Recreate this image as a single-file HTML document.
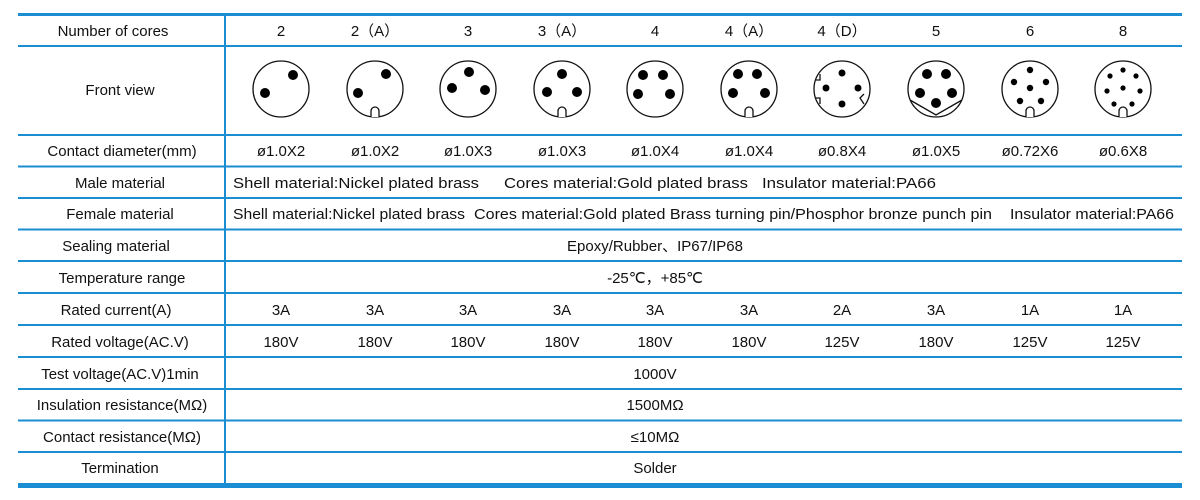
<!DOCTYPE html>
<html><head><meta charset="utf-8"><style>
html,body{margin:0;padding:0;background:#fff;}
svg{display:block;}
text{font-family:"Liberation Sans",sans-serif;font-size:15px;fill:#111;}
</style></head><body>
<svg width="1200" height="500" viewBox="0 0 1200 500" xmlns="http://www.w3.org/2000/svg">
<g stroke="#1a8dd3" fill="none">
<line x1="18" y1="14.5" x2="1182" y2="14.5" stroke-width="3"/>
<line x1="18" y1="46" x2="1182" y2="46" stroke-width="2"/>
<line x1="18" y1="135" x2="1182" y2="135" stroke-width="2"/>
<line x1="18" y1="166.5" x2="1182" y2="166.5" stroke-width="2"/>
<line x1="18" y1="198" x2="1182" y2="198" stroke-width="2"/>
<line x1="18" y1="229.5" x2="1182" y2="229.5" stroke-width="2"/>
<line x1="18" y1="261" x2="1182" y2="261" stroke-width="2"/>
<line x1="18" y1="293" x2="1182" y2="293" stroke-width="2"/>
<line x1="18" y1="325" x2="1182" y2="325" stroke-width="2"/>
<line x1="18" y1="357" x2="1182" y2="357" stroke-width="2"/>
<line x1="18" y1="389" x2="1182" y2="389" stroke-width="2"/>
<line x1="18" y1="420.5" x2="1182" y2="420.5" stroke-width="2"/>
<line x1="18" y1="452" x2="1182" y2="452" stroke-width="2"/>
<line x1="18" y1="485.5" x2="1182" y2="485.5" stroke-width="5"/>
<line x1="225" y1="14" x2="225" y2="484" stroke-width="2"/>
</g>
<g text-anchor="middle">
<text x="113" y="36">Number of cores</text>
<text x="120" y="95">Front view</text>
<text x="122" y="156">Contact diameter(mm)</text>
<text x="120" y="188">Male material</text>
<text x="120" y="219">Female material</text>
<text x="116" y="251">Sealing material</text>
<text x="122" y="283">Temperature range</text>
<text x="116" y="315">Rated current(A)</text>
<text x="120" y="347">Rated voltage(AC.V)</text>
<text x="120" y="379">Test voltage(AC.V)1min</text>
<text x="122" y="410">Insulation resistance(MΩ)</text>
<text x="122" y="442">Contact resistance(MΩ)</text>
<text x="120" y="473">Termination</text>

<text x="281" y="36">2</text><text x="375" y="36">2（A）</text><text x="468" y="36">3</text><text x="562" y="36">3（A）</text><text x="655" y="36">4</text><text x="749" y="36">4（A）</text><text x="842" y="36">4（D）</text><text x="936" y="36">5</text><text x="1030" y="36">6</text><text x="1123" y="36">8</text>

<text x="281" y="156">ø1.0X2</text><text x="375" y="156">ø1.0X2</text><text x="468" y="156">ø1.0X3</text><text x="562" y="156">ø1.0X3</text><text x="655" y="156">ø1.0X4</text><text x="749" y="156">ø1.0X4</text><text x="842" y="156">ø0.8X4</text><text x="936" y="156">ø1.0X5</text><text x="1030" y="156">ø0.72X6</text><text x="1123" y="156">ø0.6X8</text>

<text x="281" y="315">3A</text><text x="375" y="315">3A</text><text x="468" y="315">3A</text><text x="562" y="315">3A</text><text x="655" y="315">3A</text><text x="749" y="315">3A</text><text x="842" y="315">2A</text><text x="936" y="315">3A</text><text x="1030" y="315">1A</text><text x="1123" y="315">1A</text>

<text x="281" y="347">180V</text><text x="375" y="347">180V</text><text x="468" y="347">180V</text><text x="562" y="347">180V</text><text x="655" y="347">180V</text><text x="749" y="347">180V</text><text x="842" y="347">125V</text><text x="936" y="347">180V</text><text x="1030" y="347">125V</text><text x="1123" y="347">125V</text>

<text x="655" y="251">Epoxy/Rubber、IP67/IP68</text>
<text x="655" y="283">-25℃，+85℃</text>
<text x="655" y="379">1000V</text>
<text x="655" y="410">1500MΩ</text>
<text x="655" y="442">≤10MΩ</text>
<text x="655" y="473">Solder</text>
</g>
<text x="233" y="188" textLength="246" lengthAdjust="spacingAndGlyphs">Shell material:Nickel plated brass</text>
<text x="504" y="188" textLength="244" lengthAdjust="spacingAndGlyphs">Cores material:Gold plated brass</text>
<text x="762" y="188" textLength="174" lengthAdjust="spacingAndGlyphs">Insulator material:PA66</text>
<text x="233" y="219" textLength="232" lengthAdjust="spacingAndGlyphs">Shell material:Nickel plated brass</text>
<text x="474" y="219" textLength="518" lengthAdjust="spacingAndGlyphs">Cores material:Gold plated Brass turning pin/Phosphor bronze punch pin</text>
<text x="1010" y="219" textLength="164" lengthAdjust="spacingAndGlyphs">Insulator material:PA66</text>

<g stroke="#111" stroke-width="1.3" fill="#fff">
<circle cx="281" cy="89" r="28"/><circle cx="375" cy="89" r="28"/><circle cx="468" cy="89" r="28"/><circle cx="562" cy="89" r="28"/><circle cx="655" cy="89" r="28"/><circle cx="749" cy="89" r="28"/><circle cx="842" cy="89" r="28"/><circle cx="936" cy="89" r="28"/><circle cx="1030" cy="89" r="28"/><circle cx="1123" cy="89" r="28"/>
<path d="M371 117 v-6 a4 4 0 0 1 8 0 v6"/>
<path d="M558 117 v-6 a4 4 0 0 1 8 0 v6"/>
<path d="M745 117 v-6 a4 4 0 0 1 8 0 v6"/>
<path d="M1026 117 v-6 a4 4 0 0 1 8 0 v6"/>
<path d="M1119 117 v-6 a4 4 0 0 1 8 0 v6"/>
<path d="M815 80 h5 v-6" fill="none"/><path d="M815 98 h5 v6" fill="none"/><path d="M864 104 l-4 -6 l4 -4" fill="none"/>
<path d="M910 100 l26 15 l26 -15" fill="none"/>
</g>
<g fill="#000">
<circle cx="293" cy="75" r="5"/><circle cx="265" cy="93" r="5"/>
<circle cx="386" cy="74" r="5"/><circle cx="358" cy="93" r="5"/>
<circle cx="469" cy="72" r="5"/><circle cx="452" cy="88" r="5"/><circle cx="485" cy="90" r="5"/>
<circle cx="562" cy="74" r="5"/><circle cx="547" cy="92" r="5"/><circle cx="577" cy="92" r="5"/>
<circle cx="643" cy="75" r="5"/><circle cx="663" cy="75" r="5"/><circle cx="638" cy="94" r="5"/><circle cx="670" cy="94" r="5"/>
<circle cx="738" cy="74" r="5"/><circle cx="757" cy="74" r="5"/><circle cx="733" cy="93" r="5"/><circle cx="765" cy="93" r="5"/>
<circle cx="842" cy="73" r="3.5"/><circle cx="826" cy="88" r="3.5"/><circle cx="858" cy="88" r="3.5"/><circle cx="842" cy="104" r="3.5"/>
<circle cx="927" cy="74" r="5"/><circle cx="946" cy="74" r="5"/><circle cx="920" cy="93" r="5"/><circle cx="952" cy="93" r="5"/><circle cx="936" cy="103" r="5"/>
<circle cx="1030" cy="70" r="3.2"/><circle cx="1014" cy="82" r="3.2"/><circle cx="1046" cy="82" r="3.2"/><circle cx="1030" cy="88" r="3.2"/><circle cx="1020" cy="101" r="3.2"/><circle cx="1041" cy="101" r="3.2"/>
<circle cx="1123" cy="70" r="2.6"/><circle cx="1110" cy="76" r="2.6"/><circle cx="1136" cy="76" r="2.6"/><circle cx="1107" cy="91" r="2.6"/><circle cx="1123" cy="88" r="2.6"/><circle cx="1140" cy="91" r="2.6"/><circle cx="1114" cy="104" r="2.6"/><circle cx="1132" cy="104" r="2.6"/>
</g>
</svg>
</body></html>
